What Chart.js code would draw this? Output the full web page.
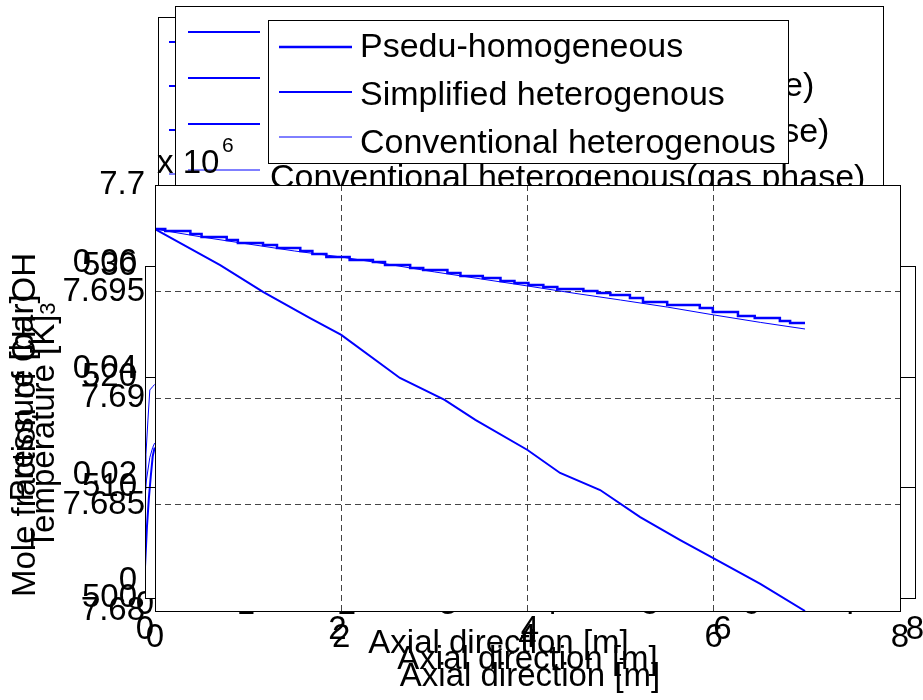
<!DOCTYPE html>
<html>
<head>
<meta charset="utf-8">
<script src="https://cdn.jsdelivr.net/npm/chart.js@4.4.1/dist/chart.umd.min.js"></script>
<style>
body{margin:0;background:#fff;overflow:hidden}
#quadro{position:relative;width:923px;height:700px}
#quadro canvas{position:absolute;left:0;top:0}
</style>
</head>
<body>
<div id="quadro">
<canvas id="capaFracao" width="923" height="700"></canvas>
<canvas id="capaTemperatura" width="923" height="700"></canvas>
<canvas id="capaPressao" width="923" height="700"></canvas>
</div>
<script>
// pressure along the reactor (main axes)
let axialPsedu=[0,0.11,0.38,0.50,0.77,0.89,1.16,1.31,1.56,1.69,1.84,2.09,2.34,2.47,2.74,2.88,3.14,3.28,3.52,3.71,3.86,4.01,4.17,4.32,4.60,4.75,4.89,5.10,5.24,5.50,5.85,5.99,6.26,6.44,6.71,6.82,6.98]
let pressaoPsedu=[7697930,7697840,7697700,7697560,7697420,7697280,7697180,7697040,7696900,7696760,7696620,7696480,7696380,7696240,7696100,7696010,7695870,7695730,7695630,7695490,7695400,7695300,7695210,7695120,7695020,7694930,7694840,7694700,7694510,7694370,7694230,7694040,7693850,7693760,7693620,7693520,7693520]
let axialSimplificado=[0,0.70,1.16,1.66,2.0,2.63,3.11,3.44,4.0,4.35,4.78,5.21,5.64,5.99,6.50,6.98]
let pressaoSimplificado=[7697930,7696240,7694980,7693760,7692960,7690940,7689910,7688970,7687560,7686480,7685680,7684410,7683330,7682490,7681270,7680000]
let axialConvencional=[0,0.5,1,1.5,2,2.5,3,3.5,4,4.5,5,5.5,6,6.5,6.98]
let pressaoConvencional=[7697930,7697560,7697230,7696900,7696620,7696280,7695920,7695590,7695260,7694920,7694600,7694270,7693900,7693550,7693240]
let legendaPressao=['Psedu-homogeneous','Simplified heterogenous','Conventional heterogenous']

// temperature axes (behind)
let axialTempSolido=[0,0.02,0.04,0.06,0.08,0.1]
let tempSolido=[502.8,506.4,509,511,512.8,513.6]
let axialTempGas=[0,0.01,0.03,0.05,0.08,0.1]
let tempGas=[509.8,513,516,518.8,519.1,519.3]
let axialTempConv=[0,0.05,0.08,0.1]
let tempConv=[509.8,512.7,513.6,514]
let legendaFases=['Psedu-homogeneous','Simplified heterogenous(gas phase)','Simplified heterogenous(solid phase)','Conventional heterogenous(gas phase)']
let larguraFases=[2,2,2,1]

let fonte="'Liberation Sans',Arial,sans-serif"
let azul='#0000ff'

Chart.defaults.font.family=fonte
Chart.defaults.color='#000'
Chart.defaults.animation=false

function pontos(xs,ys){
return xs.map((x,i)=>({x:x,y:ys[i]}))
}

function desenharLegenda(ctx,c,textos,larguras){
ctx.save()
ctx.fillStyle='#fff'
ctx.fillRect(c.x,c.y,c.w,c.h)
ctx.strokeStyle='#000'
ctx.lineWidth=1
ctx.strokeRect(c.x+0.5,c.y+0.5,c.w,c.h)
textos.forEach((t,i)=>{
let y=c.linha0+i*c.passo
ctx.strokeStyle=azul
ctx.lineWidth=larguras[i]
ctx.beginPath()
ctx.moveTo(c.x+c.ini,y)
ctx.lineTo(c.x+c.fim,y)
ctx.stroke()
ctx.fillStyle='#000'
ctx.font='34px '+fonte
ctx.textBaseline='alphabetic'
ctx.fillText(t,c.x+c.txt,c.texto0+i*c.passoTexto)
})
ctx.restore()
}

function caixaBranca(chart,marcas){
let a=chart.chartArea
let ctx=chart.ctx
ctx.save()
ctx.strokeStyle='#000'
ctx.lineWidth=1
ctx.strokeRect(a.left+0.5,a.top+0.5,a.right-a.left,a.bottom-a.top)
if(marcas){
chart.scales.y.ticks.forEach(t=>{
let y=Math.round(chart.scales.y.getPixelForValue(t.value))+0.5
ctx.beginPath()
ctx.moveTo(a.left,y)
ctx.lineTo(a.left+15,y)
ctx.moveTo(a.right,y)
ctx.lineTo(a.right-15,y)
ctx.stroke()
})
}
ctx.restore()
}

let fundoBranco={
id:'fundoBranco',
beforeDraw(chart){
let a=chart.chartArea
chart.ctx.save()
chart.ctx.fillStyle='#fff'
chart.ctx.fillRect(a.left,a.top,a.right-a.left,a.bottom-a.top)
chart.ctx.restore()
}
}

// layer 1: mole fraction labels
let graficoFracao=new Chart(document.getElementById('capaFracao'),{
type:'line',
data:{datasets:[]},
options:{
responsive:false,
devicePixelRatio:1,
layout:{padding:{top:263,right:71,bottom:0,left:0}},
plugins:{legend:{display:false},tooltip:{enabled:false}},
scales:{
x:{
type:'linear',min:0,max:7,
grid:{display:false,drawTicks:false},border:{display:false},
ticks:{stepSize:1,font:{size:33},padding:4,maxRotation:0},
title:{display:true,text:'Axial direction [m]',font:{size:33},padding:{top:0,bottom:36}},
afterFit(s){s.height=119;s.paddingLeft=0;s.paddingRight=0}
},
y:{
min:0,max:0.06,
grid:{display:false,drawTicks:false},border:{display:false},
ticks:{stepSize:0.02,font:{size:33},padding:8,
callback:v=>v===0?'0':v.toFixed(2)},
afterFit(s){s.width=145;s.paddingTop=0;s.paddingBottom=0}
}
}
},
plugins:[{
id:'tituloFracao',
afterDraw(chart){
let ctx=chart.ctx
ctx.save()
ctx.translate(35,425)
ctx.rotate(-Math.PI/2)
ctx.fillStyle='#000'
ctx.textBaseline='alphabetic'
ctx.font='33px '+fonte
let wa=ctx.measureText('Mole fraction of CH').width
let wc=ctx.measureText('OH').width
ctx.font='22px '+fonte
let wb=ctx.measureText('3').width
let x=-(wa+wb+wc)/2
ctx.font='33px '+fonte
ctx.fillText('Mole fraction of CH',x,0)
ctx.fillText('OH',x+wa+wb,0)
ctx.font='22px '+fonte
ctx.fillText('3',x+wa,20)
ctx.restore()
}
}]
})

// layer 2: temperature axes + back legends
let graficoTemperatura=new Chart(document.getElementById('capaTemperatura'),{
type:'line',
data:{datasets:[
{label:legendaFases[1],data:pontos(axialTempSolido,tempSolido),borderColor:azul,borderWidth:2,pointRadius:0},
{label:legendaFases[3],data:pontos(axialTempGas,tempGas),borderColor:azul,borderWidth:1,pointRadius:0},
{label:legendaFases[2],data:pontos(axialTempConv,tempConv),borderColor:azul,borderWidth:1,pointRadius:0}
]},
options:{
responsive:false,
devicePixelRatio:1,
layout:{padding:{top:266,right:8,bottom:0,left:0}},
plugins:{legend:{display:false},tooltip:{enabled:false}},
scales:{
x:{
type:'linear',min:0,max:8,
grid:{display:false,drawTicks:false},border:{display:false},
ticks:{stepSize:2,font:{size:33},padding:12,maxRotation:0},
title:{display:true,text:'Axial direction [m]',font:{size:33},padding:{top:0,bottom:3}},
afterFit(s){s.height=102;s.paddingLeft=0;s.paddingRight=0}
},
y:{
min:500,max:530,
grid:{display:false,drawTicks:false},border:{display:false},
ticks:{stepSize:10,font:{size:33},padding:8},
title:{display:true,text:'Temperature [K]',font:{size:33},padding:{top:25,bottom:0}},
afterFit(s){s.width=145;s.paddingTop=0;s.paddingBottom=0}
}
}
},
plugins:[fundoBranco,{
id:'legendasFundo',
afterDatasetsDraw(chart){
caixaBranca(chart,true)
},
afterDraw(chart){
desenharLegenda(chart.ctx,{x:158,y:17,w:700,h:180,linha0:42,passo:44,ini:11,fim:83,txt:93,texto0:54,passoTexto:44},legendaFases,larguraFases)
desenharLegenda(chart.ctx,{x:175,y:6,w:708,h:190,linha0:32,passo:46,ini:13,fim:85,txt:95,texto0:50,passoTexto:46},legendaFases,larguraFases)
}
}]
})

// layer 3: pressure (main axes) + front legend
let graficoPressao=new Chart(document.getElementById('capaPressao'),{
type:'line',
data:{datasets:[
{label:legendaPressao[0],data:pontos(axialPsedu,pressaoPsedu),borderColor:azul,borderWidth:2.5,pointRadius:0,stepped:'before'},
{label:legendaPressao[1],data:pontos(axialSimplificado,pressaoSimplificado),borderColor:azul,borderWidth:2,pointRadius:0},
{label:legendaPressao[2],data:pontos(axialConvencional,pressaoConvencional),borderColor:azul,borderWidth:1,pointRadius:0}
]},
options:{
responsive:false,
devicePixelRatio:1,
layout:{padding:{top:185,right:23,bottom:0,left:0}},
plugins:{legend:{display:false},tooltip:{enabled:false}},
scales:{
x:{
type:'linear',min:0,max:8,
grid:{color:'#444',drawTicks:false},
border:{display:false,dash:[6,4]},
ticks:{stepSize:2,font:{size:33},padding:7,maxRotation:0},
title:{display:true,text:'Axial direction [m]',font:{size:33},padding:{top:0,bottom:20}},
afterFit(s){s.height=89;s.paddingLeft=0;s.paddingRight=0}
},
y:{
min:7680000,max:7700000,
grid:{color:'#444',drawTicks:false},
border:{display:false,dash:[6,4]},
ticks:{stepSize:5000,font:{size:33},padding:10,
callback:v=>String(+(v/1e6).toFixed(3))},
title:{display:true,text:'Pressure [bar]',font:{size:33},padding:{top:4,bottom:0}},
afterFit(s){s.width=155;s.paddingTop=0;s.paddingBottom=0}
}
}
},
plugins:[fundoBranco,{
id:'legendaFrente',
afterDatasetsDraw(chart){
caixaBranca(chart,false)
},
afterDraw(chart){
let ctx=chart.ctx
ctx.save()
ctx.fillStyle='#000'
ctx.textBaseline='alphabetic'
ctx.font='33px '+fonte
ctx.fillText('x 10',157,173)
ctx.font='21px '+fonte
ctx.fillText('6',222,152)
ctx.restore()
let ds=chart.data.datasets
desenharLegenda(ctx,{x:268,y:20,w:520,h:143,linha0:47,passo:45,ini:11,fim:84,txt:92,texto0:57,passoTexto:48},
ds.map(d=>d.label),ds.map(d=>d.borderWidth))
}
}]
})
</script>
</body>
</html>
